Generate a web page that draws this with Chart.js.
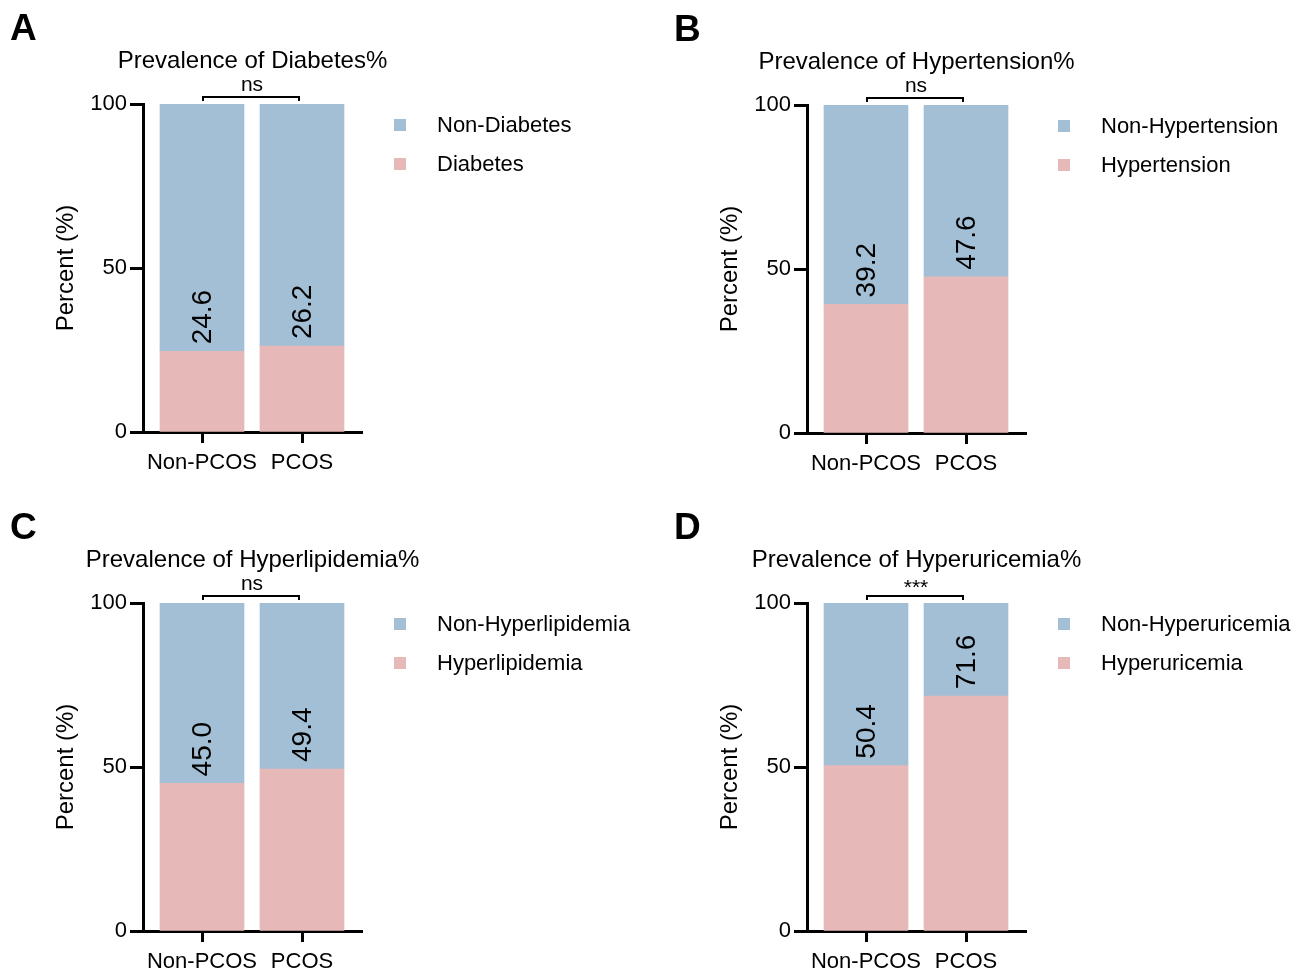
<!DOCTYPE html>
<html lang="en">
<head>
<meta charset="UTF-8">
<title>Prevalence by PCOS status</title>
<script src="https://cdn.jsdelivr.net/npm/chart.js@4.4.1/dist/chart.umd.min.js"></script>
<style>
  body { margin: 0; background: #fff; overflow: hidden; }
  canvas { position: absolute; }
</style>
</head>
<body>
<canvas id="chartA" width="632" height="486" style="left:0;top:0"></canvas>
<canvas id="chartB" width="632" height="486" style="left:664px;top:1px"></canvas>
<canvas id="chartC" width="632" height="486" style="left:0;top:499px"></canvas>
<canvas id="chartD" width="632" height="486" style="left:664px;top:499px"></canvas>
<script>
const groups = ['Non-PCOS', 'PCOS'];

const diabetes = [24.6, 26.2];
const nonDiabetes = [75.4, 73.8];
const hypertension = [39.2, 47.6];
const nonHypertension = [60.8, 52.4];
const hyperlipidemia = [45.0, 49.4];
const nonHyperlipidemia = [55.0, 50.6];
const hyperuricemia = [50.4, 71.6];
const nonHyperuricemia = [49.6, 28.4];

const yTicks = [0, 50, 100];

const BLUE = '#a3bfd5';
const PINK = '#e7b8b8';
const FONT = "'Liberation Sans', Arial, sans-serif";

Chart.defaults.font.family = FONT;
Chart.defaults.color = '#000';

// letter, title, bracket text, value labels, legend
const decor = {
  id: 'decor',
  afterDraw(chart) {
    const o = chart.options.plugins.decor;
    const ctx = chart.ctx;
    const a = chart.chartArea;
    const x = chart.scales.x, y = chart.scales.y;
    ctx.save();
    ctx.fillStyle = '#000';

    ctx.font = 'bold 37px ' + FONT;
    ctx.textAlign = 'left';
    ctx.textBaseline = 'middle';
    ctx.fillText(o.letter, 10, 30);

    ctx.font = '24px ' + FONT;
    ctx.textAlign = 'center';
    ctx.fillText(o.title, (a.left + a.right) / 2, a.top - 43);

    const x0 = x.getPixelForValue(0), x1 = x.getPixelForValue(1);
    ctx.font = '21px ' + FONT;
    ctx.fillText(o.sig, (x0 + x1) / 2, o.sig === 'ns' ? a.top - 19 : a.top - 15);
    ctx.strokeStyle = '#000';
    ctx.lineWidth = 2;
    ctx.beginPath();
    ctx.moveTo(x0 + 1, a.top - 3);
    ctx.lineTo(x0 + 1, a.top - 7);
    ctx.lineTo(x1 - 3, a.top - 7);
    ctx.lineTo(x1 - 3, a.top - 3);
    ctx.stroke();

    const pos = chart.data.datasets[0].data;
    ctx.font = '28px ' + FONT;
    ctx.textAlign = 'left';
    pos.forEach(p => {
      ctx.save();
      ctx.translate(x.getPixelForValue(p.x) + 1, y.getPixelForValue(p.y) - 7);
      ctx.rotate(-Math.PI / 2);
      ctx.fillText(p.y.toFixed(1), 0, 0);
      ctx.restore();
    });

    const legendItems = [chart.data.datasets[1], chart.data.datasets[0]];
    ctx.font = '22px ' + FONT;
    legendItems.forEach((ds, i) => {
      const cy = a.top + 21 + i * 39;
      ctx.fillStyle = ds.backgroundColor;
      ctx.fillRect(a.right + 32, cy - 6, 12, 12);
      ctx.fillStyle = '#000';
      ctx.fillText(ds.label, a.right + 75, cy + 1);
    });
    ctx.restore();
  }
};

function makePanel(id, letter, title, sig, posLabel, posVals, negLabel, negVals) {
  new Chart(document.getElementById(id), {
    type: 'bar',
    data: {
      datasets: [
        { label: posLabel, data: posVals.map((v, i) => ({ x: i, y: v })), backgroundColor: PINK, barThickness: 84 },
        { label: negLabel, data: negVals.map((v, i) => ({ x: i, y: v })), backgroundColor: BLUE, barThickness: 84 }
      ]
    },
    options: {
      responsive: false,
      animation: false,
      layout: { padding: { top: 104, right: 270, left: 0, bottom: 0 } },
      plugins: {
        legend: { display: false },
        tooltip: { enabled: false },
        decor: { letter, title, sig }
      },
      scales: {
        x: {
          type: 'linear',
          stacked: true,
          offset: false,
          min: -0.59,
          max: 1.6,
          afterBuildTicks: s => { s.ticks = [{ value: 0 }, { value: 1 }]; },
          afterFit: s => { s.height = 54; },
          ticks: { callback: v => groups[v], font: { size: 22 }, padding: 7, autoSkip: false, maxRotation: 0 },
          grid: { offset: false, drawOnChartArea: false, tickLength: 11, tickWidth: 3, tickColor: '#000' },
          border: { color: '#000', width: 3 }
        },
        y: {
          stacked: true,
          min: 0,
          max: 100,
          afterBuildTicks: s => { s.ticks = yTicks.map(v => ({ value: v })); },
          afterFit: s => { s.width = 143; },
          ticks: { font: { size: 22 }, padding: 3 },
          grid: { drawOnChartArea: false, tickLength: 13, tickWidth: 3, tickColor: '#000' },
          border: { color: '#000', width: 3 },
          title: { display: true, text: 'Percent (%)', font: { size: 24 }, padding: { top: 52, bottom: 0 } }
        }
      }
    },
    plugins: [decor]
  });
}

makePanel('chartA', 'A', 'Prevalence of Diabetes%', 'ns', 'Diabetes', diabetes, 'Non-Diabetes', nonDiabetes);
makePanel('chartB', 'B', 'Prevalence of Hypertension%', 'ns', 'Hypertension', hypertension, 'Non-Hypertension', nonHypertension);
makePanel('chartC', 'C', 'Prevalence of Hyperlipidemia%', 'ns', 'Hyperlipidemia', hyperlipidemia, 'Non-Hyperlipidemia', nonHyperlipidemia);
makePanel('chartD', 'D', 'Prevalence of Hyperuricemia%', '***', 'Hyperuricemia', hyperuricemia, 'Non-Hyperuricemia', nonHyperuricemia);
</script>
</body>
</html>
